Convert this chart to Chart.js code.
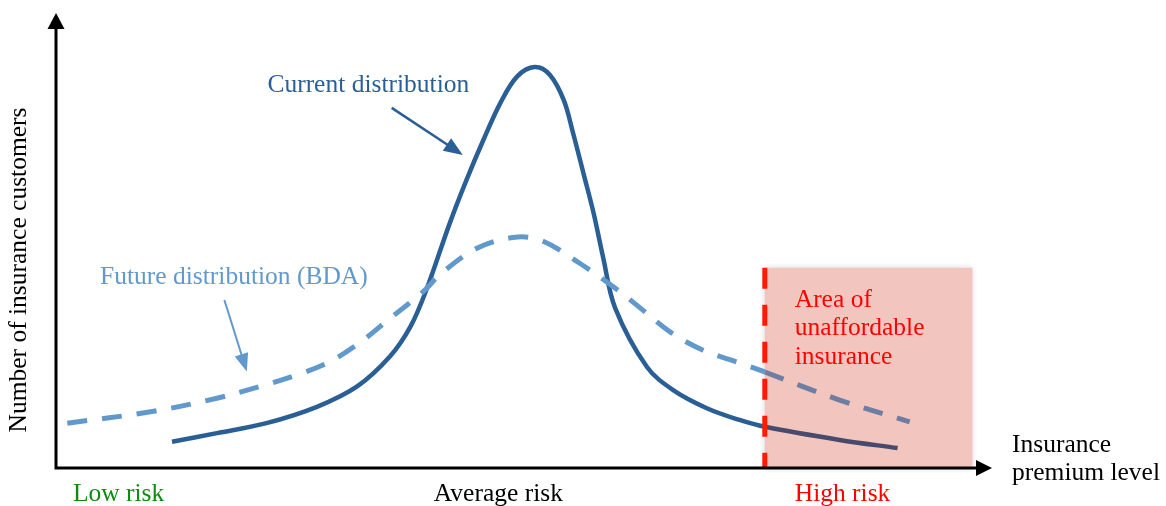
<!DOCTYPE html>
<html>
<head>
<meta charset="utf-8">
<script src="https://cdn.jsdelivr.net/npm/chart.js@4.4.1/dist/chart.umd.min.js"></script>
<style>
    html, body { margin: 0; padding: 0; background: #ffffff; }
    #wrap { width: 1166px; height: 506px; }
</style>
</head>
<body>
<div id="wrap"><canvas id="riskChart" width="1166" height="506"></canvas></div>
<script>
// premium level on x (0..100), customers on y (0..100)
const currentX = [12.3, 17.1, 22.4, 27.8, 32.1, 35.6, 37.8, 39.5, 42.0, 43.8, 45.6, 47.4, 49.2, 51.1, 52.7, 54.2, 55.2, 56.3, 57.4, 58.4, 59.7, 63.1, 65.9, 69.5, 73.0, 75.7, 83.7, 89.9];
const currentY = [5.8, 7.7, 9.9, 13.5, 18.0, 24.6, 31.2, 39.3, 54.0, 63.6, 72.4, 80.5, 86.4, 88.5, 86.8, 81.2, 73.9, 65.1, 56.2, 46.6, 35.3, 22.3, 17.2, 13.2, 10.6, 9.1, 6.2, 4.4];

const futureX = [1.1, 10.0, 17.1, 21.7, 25.6, 29.2, 32.4, 35.6, 39.2, 41.0, 44.9, 48.8, 51.7, 55.9, 59.5, 62.4, 65.6, 69.1, 73.0, 75.7, 83.7, 91.2];
const futureY = [9.9, 12.4, 15.4, 18.0, 20.5, 23.5, 27.7, 33.0, 39.0, 42.8, 48.5, 50.9, 50.3, 45.2, 40.0, 35.3, 30.0, 26.0, 23.2, 21.2, 15.0, 10.2];

const unaffordableFrom = 75.7;   // start of the high risk zone
const unaffordableTo = 97.9;
const unaffordableTop = 44.2;

const bottomLabels = ['Low risk', 'Average risk', 'High risk'];
const bottomLabelX = [1.7, 40.3, 78.9];

const FONT = '25.5px "Liberation Serif", "DejaVu Serif", serif';
const BLUE = '#2a5f96';
const LIGHT_BLUE = '#6199cd';
const RED = '#ff1a00';

function toPoints(xs, ys) {
    return xs.map((x, i) => ({ x: x, y: ys[i] }));
}

function arrowHead(ctx, x1, y1, x2, y2, len, half, color) {
    const a = Math.atan2(y2 - y1, x2 - x1);
    ctx.fillStyle = color;
    ctx.beginPath();
    ctx.moveTo(x2, y2);
    ctx.lineTo(x2 - len * Math.cos(a) + half * Math.sin(a), y2 - len * Math.sin(a) - half * Math.cos(a));
    ctx.lineTo(x2 - len * Math.cos(a) - half * Math.sin(a), y2 - len * Math.sin(a) + half * Math.cos(a));
    ctx.closePath();
    ctx.fill();
}

function arrow(ctx, x1, y1, x2, y2, width, len, half, color) {
    const a = Math.atan2(y2 - y1, x2 - x1);
    ctx.strokeStyle = color;
    ctx.lineWidth = width;
    ctx.beginPath();
    ctx.moveTo(x1, y1);
    ctx.lineTo(x2 - len * 0.8 * Math.cos(a), y2 - len * 0.8 * Math.sin(a));
    ctx.stroke();
    arrowHead(ctx, x1, y1, x2, y2, len, half, color);
}

const decorations = {
    id: 'decorations',
    beforeDatasetsDraw(chart) {
        const ctx = chart.ctx;
        const xs = chart.scales.x, ys = chart.scales.y;
        const l = xs.getPixelForValue(unaffordableFrom);
        const r = xs.getPixelForValue(unaffordableTo);
        const t = ys.getPixelForValue(unaffordableTop);
        const b = ys.getPixelForValue(0);
        ctx.save();
        ctx.shadowColor = 'rgba(0,0,0,0.18)';
        ctx.shadowBlur = 6;
        ctx.fillStyle = '#f2c5bf';
        ctx.fillRect(l, t, r - l, b - t);
        ctx.restore();
    },
    afterDatasetsDraw(chart) {
        const ctx = chart.ctx;
        const xs = chart.scales.x, ys = chart.scales.y;
        const area = chart.chartArea;
        const l = xs.getPixelForValue(unaffordableFrom);
        const t = ys.getPixelForValue(unaffordableTop);
        const b = ys.getPixelForValue(0);

        // red boundary
        ctx.save();
        ctx.strokeStyle = RED;
        ctx.lineWidth = 5;
        ctx.setLineDash([21, 16]);
        ctx.beginPath();
        ctx.moveTo(l, t);
        ctx.lineTo(l, b);
        ctx.stroke();
        ctx.restore();

        // axes with arrows
        ctx.save();
        ctx.strokeStyle = '#000';
        ctx.lineWidth = 3;
        ctx.beginPath();
        ctx.moveTo(area.left - 1, area.top + 10);
        ctx.lineTo(area.left - 1, area.bottom);
        ctx.lineTo(area.right - 10, area.bottom);
        ctx.stroke();
        arrowHead(ctx, area.left - 1, area.bottom, area.left - 1, area.top - 2, 16, 8.5, '#000');
        arrowHead(ctx, area.left, area.bottom, area.right, area.bottom, 16, 8, '#000');

        // pointers to the curves
        arrow(ctx, xs.getPixelForValue(35.8), ys.getPixelForValue(79.5),
            xs.getPixelForValue(43.4), ys.getPixelForValue(69.1), 2.5, 19, 7.5, BLUE);
        arrow(ctx, xs.getPixelForValue(17.9), ys.getPixelForValue(37.1),
            xs.getPixelForValue(20.3), ys.getPixelForValue(21.3), 2, 18, 7, LIGHT_BLUE);
        ctx.restore();
    },
    afterDraw(chart) {
        const ctx = chart.ctx;
        const xs = chart.scales.x, ys = chart.scales.y;
        const area = chart.chartArea;
        ctx.save();
        ctx.font = FONT;
        ctx.textBaseline = 'middle';
        ctx.textAlign = 'left';

        ctx.fillStyle = BLUE;
        ctx.fillText('Current distribution', xs.getPixelForValue(22.5), ys.getPixelForValue(84.5));
        ctx.fillStyle = LIGHT_BLUE;
        ctx.fillText('Future distribution (BDA)', xs.getPixelForValue(4.6), ys.getPixelForValue(42.2));

        ctx.fillStyle = '#ff0000';
        ['Area of', 'unaffordable', 'insurance'].forEach((s, i) => {
            ctx.fillText(s, xs.getPixelForValue(78.9), ys.getPixelForValue(37.1) + i * 28.5);
        });

        ctx.fillStyle = '#000';
        ctx.fillText('Insurance', area.right + 20, area.bottom - 23);
        ctx.fillText('premium level', area.right + 20, area.bottom + 5);

        const colors = ['#128a12', '#000000', '#ff0000'];
        bottomLabels.forEach((s, i) => {
            ctx.fillStyle = colors[i];
            ctx.fillText(s, xs.getPixelForValue(bottomLabelX[i]), area.bottom + 26);
        });

        ctx.translate(19, 270);
        ctx.rotate(-Math.PI / 2);
        ctx.textAlign = 'center';
        ctx.fillStyle = '#000';
        ctx.fillText('Number of insurance customers', 0, 0);
        ctx.restore();
    }
};

const insideZone = (ctx) => ctx.p0.parsed.x >= unaffordableFrom - 0.01;

new Chart(document.getElementById('riskChart'), {
    type: 'line',
    data: {
        datasets: [
            {
                label: 'Future distribution (BDA)',
                data: toPoints(futureX, futureY),
                borderColor: LIGHT_BLUE,
                borderWidth: 5,
                borderDash: [20, 15],
                borderCapStyle: 'butt',
                pointRadius: 0,
                tension: 0.35,
                fill: false,
                segment: { borderColor: ctx => insideZone(ctx) ? '#6e7ea2' : LIGHT_BLUE }
            },
            {
                label: 'Current distribution',
                data: toPoints(currentX, currentY),
                borderColor: BLUE,
                borderWidth: 4.5,
                borderCapStyle: 'butt',
                pointRadius: 0,
                tension: 0.35,
                fill: false,
                segment: { borderColor: ctx => insideZone(ctx) ? '#474a6c' : BLUE }
            }
        ]
    },
    options: {
        responsive: false,
        animation: false,
        layout: { padding: { left: 57, right: 174, top: 15, bottom: 38 } },
        plugins: { legend: { display: false }, tooltip: { enabled: false } },
        scales: {
            x: { type: 'linear', min: 0, max: 100, display: false },
            y: { type: 'linear', min: 0, max: 100, display: false }
        }
    },
    plugins: [decorations]
});
</script>
</body>
</html>
